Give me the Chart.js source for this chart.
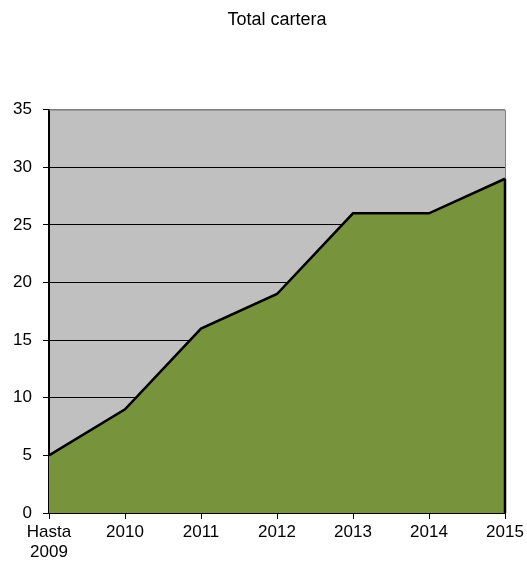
<!DOCTYPE html>
<html>
<head>
<meta charset="utf-8">
<script src="https://cdn.jsdelivr.net/npm/chart.js@4/dist/chart.umd.min.js"></script>
<style>
  body { margin: 0; background: #fff; }
  #wrap { width: 527px; height: 561px; }
</style>
</head>
<body>
<div id="wrap"><canvas id="carteraChart" width="527" height="561"></canvas></div>
<script>
// Datos del gráfico
const categorias = [['Hasta', '2009'], '2010', '2011', '2012', '2013', '2014', '2015'];
const totalCartera = [5, 9, 16, 19, 26, 26, 29];
const ejeY = { min: 0, max: 35, paso: 5 };

const FUENTE = '"Liberation Sans", Arial, sans-serif';

// Fondo gris del área de trazado + borde gris + borde negro del área a la derecha
const fondoPlot = {
    id: 'fondoPlot',
    beforeDraw(chart) {
        const { ctx, chartArea: a } = chart;
        ctx.save();
        ctx.fillStyle = '#C0C0C0';
        ctx.fillRect(a.left, a.top, a.right - a.left, a.bottom - a.top);
        ctx.restore();
    },
    afterDatasetsDraw(chart) {
        const { ctx, chartArea: a, scales } = chart;
        ctx.save();
        ctx.strokeStyle = '#808080';
        ctx.lineWidth = 1;
        ctx.beginPath();
        ctx.moveTo(a.left, a.top + 0.5);
        ctx.lineTo(a.right + 0.5, a.top + 0.5);
        ctx.lineTo(a.right + 0.5, a.bottom);
        ctx.stroke();
        // borde del área que baja desde el último punto
        const ultimo = totalCartera.length - 1;
        const x = scales.x.getPixelForValue(ultimo);
        ctx.strokeStyle = '#000';
        ctx.lineWidth = 2.5;
        ctx.beginPath();
        ctx.moveTo(x, scales.y.getPixelForValue(totalCartera[ultimo]));
        ctx.lineTo(x, scales.y.getPixelForValue(0));
        ctx.stroke();
        ctx.restore();
    }
};

const ctx = document.getElementById('carteraChart');
new Chart(ctx, {
    type: 'line',
    data: {
        labels: categorias,
        datasets: [{
            label: 'Total cartera',
            data: totalCartera,
            fill: 'origin',
            backgroundColor: '#77933C',
            borderColor: '#000',
            borderWidth: 2.5,
            tension: 0,
            pointRadius: 0,
            pointHoverRadius: 0
        }]
    },
    options: {
        responsive: false,
        animation: false,
        layout: { padding: { top: 0, right: 22, bottom: 0, left: 0 } },
        plugins: {
            legend: { display: false },
            tooltip: { enabled: false },
            title: {
                display: true,
                text: 'Total cartera',
                fullSize: false,
                color: '#000',
                font: { family: FUENTE, size: 18, weight: 'normal' },
                padding: { top: 9, bottom: 79 }
            }
        },
        scales: {
            x: {
                type: 'category',
                offset: false,
                grid: {
                    display: true,
                    drawOnChartArea: false,
                    drawTicks: true,
                    tickLength: 6,
                    color: '#000'
                },
                border: { display: true, color: '#000', width: 2 },
                ticks: {
                    color: '#000',
                    font: { family: FUENTE, size: 17 },
                    maxRotation: 0,
                    autoSkip: false,
                    padding: 3
                },
                afterFit(scale) { scale.height = 48; }
            },
            y: {
                min: ejeY.min,
                max: ejeY.max,
                grid: {
                    color: (c) => (c.tick && c.tick.value === ejeY.max) ? '#808080' : '#000',
                    lineWidth: 1,
                    drawTicks: true,
                    tickLength: 6,
                    tickColor: '#000'
                },
                border: { display: true, color: '#000', width: 2 },
                ticks: {
                    stepSize: ejeY.paso,
                    color: '#000',
                    font: { family: FUENTE, size: 17 },
                    padding: 11
                },
                afterFit(scale) { scale.width = 49; }
            }
        }
    },
    plugins: [fondoPlot]
});
</script>
</body>
</html>
